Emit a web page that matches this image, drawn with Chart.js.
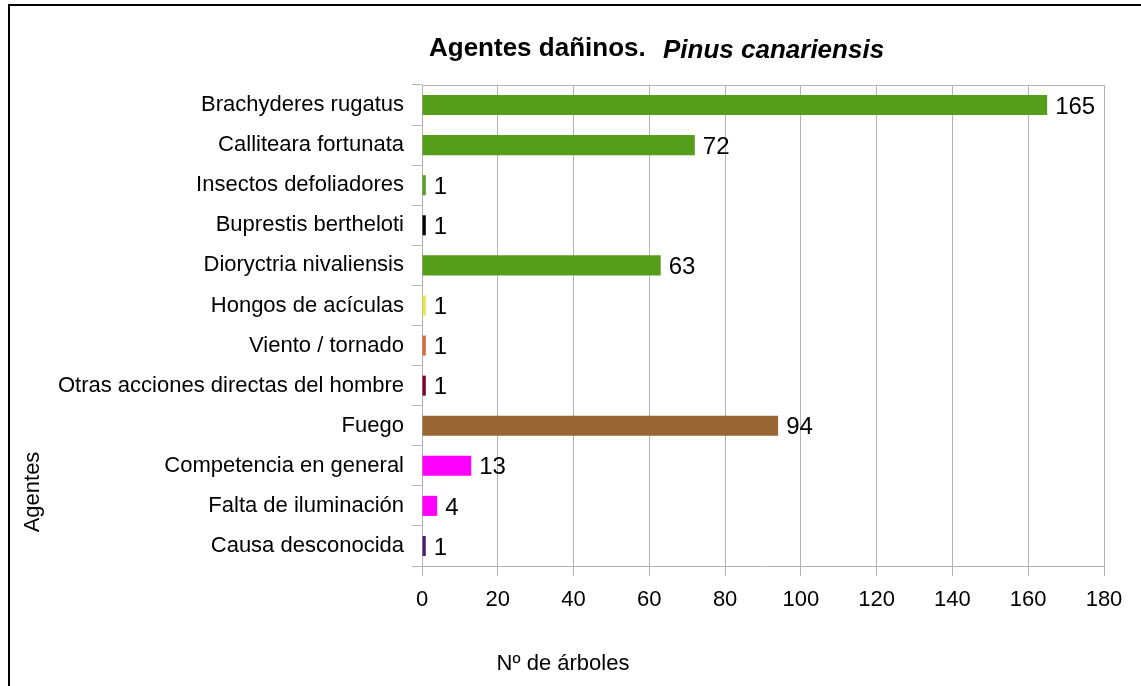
<!DOCTYPE html>
<html>
<head>
<meta charset="utf-8">
<script src="https://cdn.jsdelivr.net/npm/chart.js@4.4.0/dist/chart.umd.min.js"></script>
<style>
  body { margin: 0; background: #fff; }
  canvas { display: block; }
</style>
</head>
<body>
<canvas id="chart" width="1141" height="686"></canvas>
<script>
const agentes = [
  'Brachyderes rugatus',
  'Calliteara fortunata',
  'Insectos defoliadores',
  'Buprestis bertheloti',
  'Dioryctria nivaliensis',
  'Hongos de acículas',
  'Viento / tornado',
  'Otras acciones directas del hombre',
  'Fuego',
  'Competencia en general',
  'Falta de iluminación',
  'Causa desconocida'
];
const arboles = [165, 72, 1, 1, 63, 1, 1, 1, 94, 13, 4, 1];
const colores = [
  '#579d1c', '#579d1c', '#579d1c', '#000000', '#579d1c', '#e6e64c',
  '#d9693a', '#7e0021', '#996633', '#ff00ff', '#ff00ff', '#4b1f6f'
];
const xTicks = [0, 20, 40, 60, 80, 100, 120, 140, 160, 180];

const gridGray = '#b3b3b3';

// frame, title and axis titles drawn by hand
const decorations = {
  id: 'decorations',
  beforeDraw(chart) {
    const ctx = chart.ctx;
    ctx.save();
    ctx.fillStyle = '#fff';
    ctx.fillRect(0, 0, chart.width, chart.height);
    ctx.strokeStyle = '#000';
    ctx.lineWidth = 2;
    ctx.beginPath();
    ctx.moveTo(9, 686);
    ctx.lineTo(9, 5);
    ctx.lineTo(1141, 5);
    ctx.stroke();
    ctx.restore();
  },
  afterDraw(chart) {
    const ctx = chart.ctx;
    const area = chart.chartArea;
    ctx.save();
    // top border of plot area
    ctx.strokeStyle = gridGray;
    ctx.lineWidth = 1;
    ctx.beginPath();
    ctx.moveTo(area.left, Math.round(area.top) + 0.5);
    ctx.lineTo(area.right, Math.round(area.top) + 0.5);
    ctx.stroke();

    ctx.fillStyle = '#000';
    ctx.textBaseline = 'middle';
    ctx.textAlign = 'left';
    ctx.font = 'bold 26px "Liberation Sans", Arial, sans-serif';
    ctx.fillText('Agentes dañinos.', 429, 49);
    ctx.font = 'italic bold 26px "Liberation Sans", Arial, sans-serif';
    ctx.fillText('Pinus canariensis', 663, 51);

    ctx.font = '22px "Liberation Sans", Arial, sans-serif';
    ctx.textAlign = 'center';
    ctx.fillText('Nº de árboles', 563, 664);

    ctx.translate(33, 492);
    ctx.rotate(-Math.PI / 2);
    ctx.fillText('Agentes', 0, 0);
    ctx.restore();
  }
};

const valueLabels = {
  id: 'valueLabels',
  afterDatasetsDraw(chart) {
    const ctx = chart.ctx;
    const meta = chart.getDatasetMeta(0);
    ctx.save();
    ctx.fillStyle = '#000';
    ctx.font = '24px "Liberation Sans", Arial, sans-serif';
    ctx.textAlign = 'left';
    ctx.textBaseline = 'middle';
    meta.data.forEach((bar, i) => {
      ctx.fillText(String(arboles[i]), bar.x + 8, bar.y + 2);
    });
    ctx.restore();
  }
};

new Chart(document.getElementById('chart'), {
  type: 'bar',
  data: {
    labels: agentes,
    datasets: [{
      data: arboles,
      backgroundColor: colores,
      borderWidth: 0,
      barPercentage: 0.5,
      categoryPercentage: 1.0
    }]
  },
  options: {
    indexAxis: 'y',
    responsive: false,
    animation: false,
    events: [],
    layout: { padding: { top: 85, right: 37, left: 0, bottom: 0 } },
    plugins: {
      legend: { display: false },
      title: { display: false },
      tooltip: { enabled: false }
    },
    scales: {
      x: {
        min: 0,
        max: 180,
        afterFit(scale) { scale.height = 120; },
        afterBuildTicks(scale) { scale.ticks = xTicks.map(v => ({ value: v })); },
        grid: { color: gridGray, lineWidth: 1, tickLength: 10, drawTicks: true },
        border: { color: gridGray, width: 1 },
        ticks: {
          color: '#000',
          padding: 11,
          font: { family: '"Liberation Sans", Arial, sans-serif', size: 22 }
        }
      },
      y: {
        afterFit(scale) { scale.width = 422; },
        grid: { color: gridGray, drawOnChartArea: false, offset: true, tickLength: 10 },
        border: { color: gridGray, width: 1 },
        ticks: {
          color: '#000',
          padding: 8,
          autoSkip: false,
          font: { family: '"Liberation Sans", Arial, sans-serif', size: 22 }
        }
      }
    }
  },
  plugins: [decorations, valueLabels]
});
</script>
</body>
</html>
